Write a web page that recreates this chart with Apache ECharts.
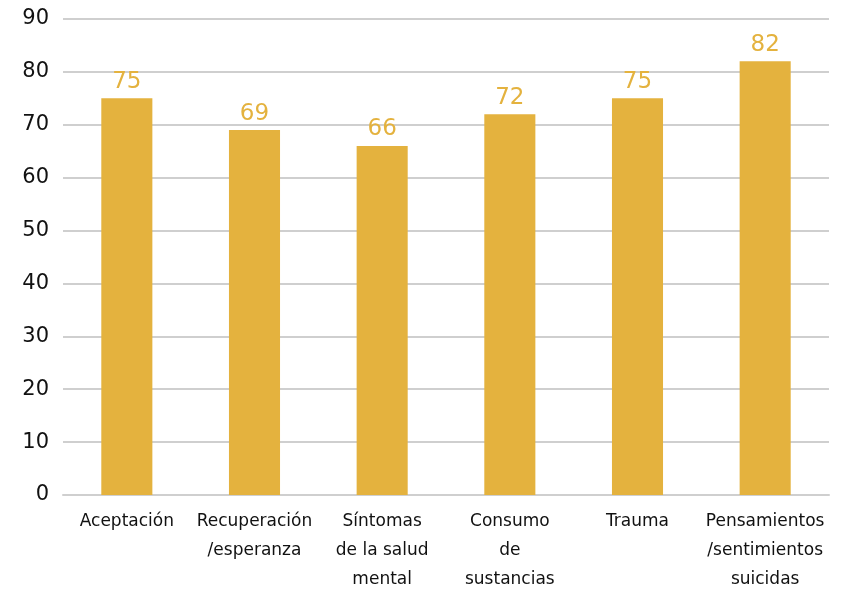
<!DOCTYPE html>
<html>
<head>
<meta charset="utf-8">
<script src="https://cdn.jsdelivr.net/npm/echarts@6/dist/echarts.min.js"></script>
<style>
  html, body { margin: 0; padding: 0; background: #fff; }
  #chart { width: 852px; height: 591px; }
</style>
</head>
<body>
<div id="chart"></div>
<script>
// Survey topics and their scores
const categories = [
  'Aceptación',
  'Recuperación\n/esperanza',
  'Síntomas\nde la salud\nmental',
  'Consumo\nde\nsustancias',
  'Trauma',
  'Pensamientos\n/sentimientos\nsuicidas'
];
const scores = [75, 69, 66, 72, 75, 82];
const yTicks = [0, 10, 20, 30, 40, 50, 60, 70, 80, 90];

const barColor = '#e4b23e';
const fontFamily = '"DejaVu Sans", Verdana, sans-serif';

const chart = echarts.init(document.getElementById('chart'));
chart.setOption({
  animation: false,
  grid: {
    left: 63, right: 23, top: 19, bottom: 96,
    containLabel: false,
    outerBoundsMode: 'none'
  },
  xAxis: {
    type: 'category',
    data: categories,
    axisLine: { show: true, lineStyle: { color: '#cfcfcf', width: 2 } },
    axisTick: { show: false },
    axisLabel: {
      interval: 0,
      color: '#111',
      fontFamily: fontFamily,
      fontSize: 17,
      lineHeight: 29,
      margin: 12,
      align: 'center'
    }
  },
  yAxis: {
    type: 'value',
    min: yTicks[0],
    max: yTicks[yTicks.length - 1],
    interval: 10,
    axisLine: { show: false },
    axisTick: { show: false },
    splitLine: { lineStyle: { color: '#cfcfcf', width: 2 } },
    axisLabel: {
      color: '#111',
      fontFamily: fontFamily,
      fontSize: 21,
      margin: 14
    }
  },
  series: [{
    type: 'bar',
    data: scores,
    barWidth: '40%',
    itemStyle: { color: barColor },
    label: {
      show: true,
      position: 'top',
      distance: 5,
      color: barColor,
      fontFamily: fontFamily,
      fontSize: 23
    }
  }]
});
</script>
</body>
</html>
